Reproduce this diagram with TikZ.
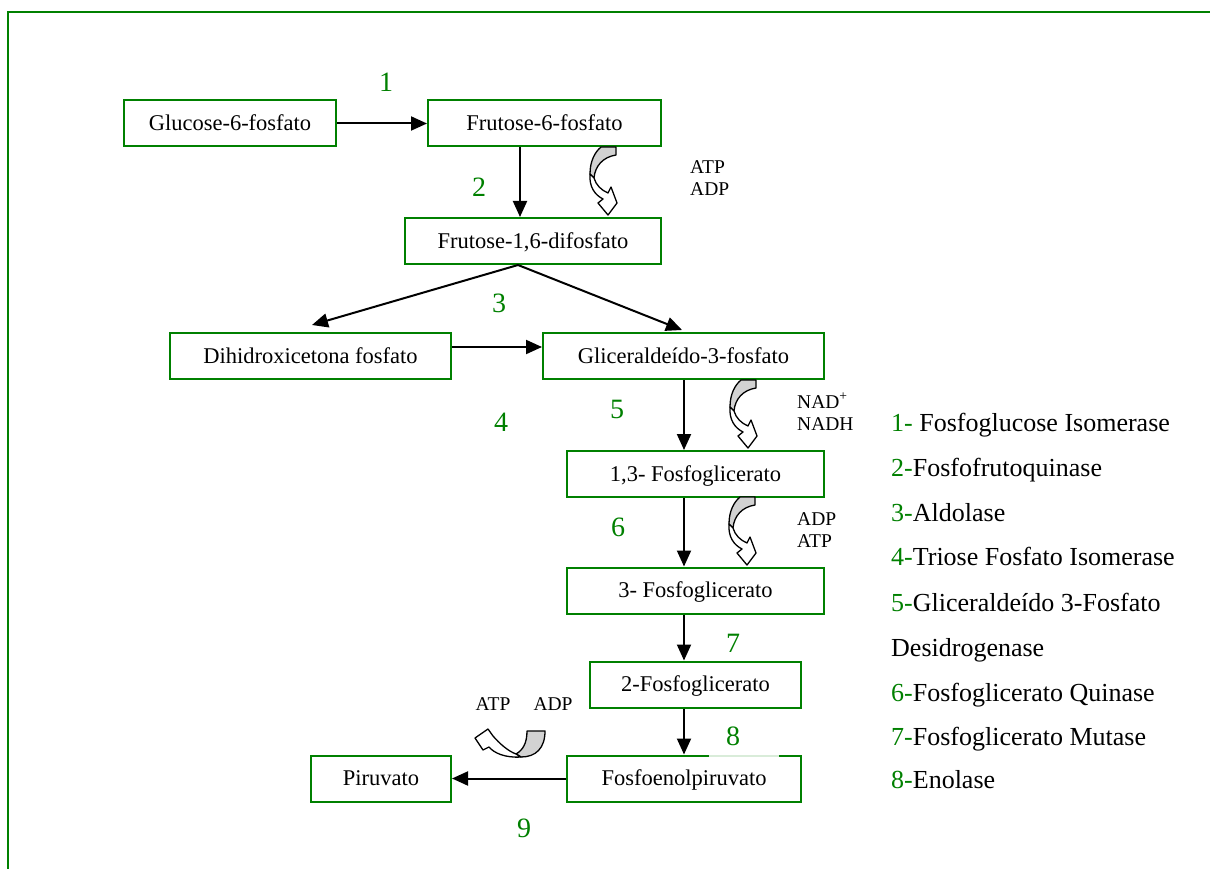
\documentclass[tikz,border=0pt]{standalone}
\usepackage{fontspec}
\setmainfont{Liberation Serif}
\usepackage{xcolor}
\usepackage{tikz}
\usetikzlibrary{positioning,calc,arrows.meta}
\definecolor{pathgreen}{RGB}{0,128,0}

\begin{document}
\begin{tikzpicture}[x=1pt,y=-1pt,
    box/.style={draw=pathgreen, line width=2pt, minimum height=46pt, inner sep=0pt,
        font=\fontsize{22.5}{26}\selectfont, text height=14.9pt, text depth=0pt},
    num/.style={text=pathgreen, font=\fontsize{28}{32}\selectfont, inner sep=0pt,
        text height=18.9pt, text depth=0pt},
    cof/.style={font=\fontsize{19.5}{22}\selectfont, inner sep=0pt, anchor=west,
        text height=12.9pt, text depth=0pt},
    enz/.style={font=\fontsize{26}{30}\selectfont, inner sep=0pt, anchor=west,
        text height=17.2pt, text depth=0pt},
    arr/.style={line width=2pt, -{Triangle[length=16pt,width=14pt]}},
    cofarrow/.pic={
        \filldraw[fill=gray!35, line width=1.3pt, line join=round]
            (-15,0) -- (0,0) -- (0,8) .. controls (-13,10) and (-21,19) .. (-22,31)
            -- (-26,27) .. controls (-26,14) and (-21,5) .. cycle;
        \filldraw[fill=white, line width=1.3pt, line join=round]
            (-26,27) .. controls (-27,40) and (-21,48) .. (-13,52) -- (-18,56)
            -- (-8,68) -- (1,56) -- (-5,40) -- (-8,46)
            .. controls (-15,43) and (-20,38) .. (-22,31) -- cycle;
    }]
    \useasboundingbox (0,0) rectangle (1210,869);

    % frame
    \draw[pathgreen, line width=2pt] (8,869) -- (8,12) -- (1210,12);

    % metabolites
    \node[box, minimum width=212pt] (g6p) at (230,123.5) {Glucose-6-fosfato};
    \node[box, minimum width=233pt] (f6p) at (544.5,123.5) {Frutose-6-fosfato};
    \node[box, minimum width=256pt] (f16) at (533,241) {Frutose-1,6-difosfato};
    \node[box, minimum width=281pt] (dhap) at (310.5,356) {Dihidroxicetona fosfato};
    \node[box, minimum width=281pt] (ga3p) at (683.5,356) {Gliceraldeído-3-fosfato};
    \node[box, minimum width=257pt] (bpg) at (695.5,474) {1,3- Fosfoglicerato};
    \node[box, minimum width=257pt] (pg3) at (695.5,590.5) {3- Fosfoglicerato};
    \node[box, minimum width=211pt] (pg2) at (695.5,684.5) {2-Fosfoglicerato};
    \node[box, minimum width=234pt] (pep) at (684,778.5) {Fosfoenolpiruvato};
    \node[box, minimum width=140pt] (pyr) at (381,778.5) {Piruvato};

    % connectors
    \coordinate (c2) at (520,0);
    \coordinate (c3) at (518,0);
    \coordinate (tipL) at (312,325);
    \coordinate (tipR) at (682,330);
    \coordinate (c4) at (0,347);
    \coordinate (cx) at (684,0);
    \draw[arr] (g6p.east) -- (f6p.west);
    \draw[arr] (f6p.south -| c2) -- (f16.north -| c2);
    \draw[arr] (f16.south -| c3) -- (tipL);
    \draw[arr] (f16.south -| c3) -- (tipR);
    \draw[arr] (dhap.east |- c4) -- (ga3p.west |- c4);
    \draw[arr] (ga3p.south -| cx) -- (bpg.north -| cx);
    \draw[arr] (bpg.south -| cx) -- (pg3.north -| cx);
    \draw[arr] (pg3.south -| cx) -- (pg2.north -| cx);
    \draw[arr] (pg2.south -| cx) -- (pep.north -| cx);
    \draw[arr] (pep.west) -- (pyr.east);

    % cofactors
    \pic at (616,147) {cofarrow};
    \pic at (756,380) {cofarrow};
    \pic at (755,497) {cofarrow};
    \node[cof] (atp1) at (690,167) {ATP};
    \node[cof] (adp1) at (690,189) {ADP};
    \node[cof] (nad) at (797,402) {NAD\textsuperscript{+}};
    \node[cof] (nadh) at (797,424) {NADH};
    \node[cof] (adp2) at (797,519) {ADP};
    \node[cof] (atp2) at (797,541) {ATP};
    \node[cof, anchor=center] (atp3) at (493,704) {ATP};
    \node[cof, anchor=center] (adp3) at (553,704) {ADP};
    \filldraw[fill=gray!35, line width=1.3pt, line join=round]
        (527,731) -- (545,731) .. controls (545,748) and (536,757) .. (521,757)
        -- (516,754) .. controls (523,750) and (527,743) .. cycle;
    \filldraw[fill=white, line width=1.3pt, line join=round]
        (521,757) .. controls (505,758) and (494,753) .. (489,747) -- (483,750)
        -- (475,738) -- (488,729) -- (493,736)
        .. controls (500,744) and (508,751) .. (516,754) -- cycle;

    % enzyme numbers
    \node[num] (n1) at (386,82) {1};
    \node[num] (n2) at (479,187) {2};
    \node[num] (n3) at (499,303) {3};
    \node[num] (n4) at (501,422) {4};
    \node[num] (n5) at (617,409) {5};
    \node[num] (n6) at (618,527) {6};
    \node[num] (n7) at (733,643) {7};
    \fill[white, opacity=.85] (709,716) rectangle (779,757);
    \node[num] (n8) at (733,736) {8};
    \node[num] (n9) at (524,828) {9};

    % legend
    \node[enz] (e1) at (891,423) {\textcolor{pathgreen}{1-} Fosfoglucose Isomerase};
    \node[enz] (e2) at (891,468) {\textcolor{pathgreen}{2-}Fosfofrutoquinase};
    \node[enz] (e3) at (891,513) {\textcolor{pathgreen}{3-}Aldolase};
    \node[enz] (e4) at (891,557) {\textcolor{pathgreen}{4-}Triose Fosfato Isomerase};
    \node[enz] (e5) at (891,603) {\textcolor{pathgreen}{5-}Gliceraldeído 3-Fosfato};
    \node[enz] (e5b) at (891,648) {Desidrogenase};
    \node[enz] (e6) at (891,693) {\textcolor{pathgreen}{6-}Fosfoglicerato Quinase};
    \node[enz] (e7) at (891,737) {\textcolor{pathgreen}{7-}Fosfoglicerato Mutase};
    \node[enz] (e8) at (891,780) {\textcolor{pathgreen}{8-}Enolase};
\end{tikzpicture}
\end{document}
